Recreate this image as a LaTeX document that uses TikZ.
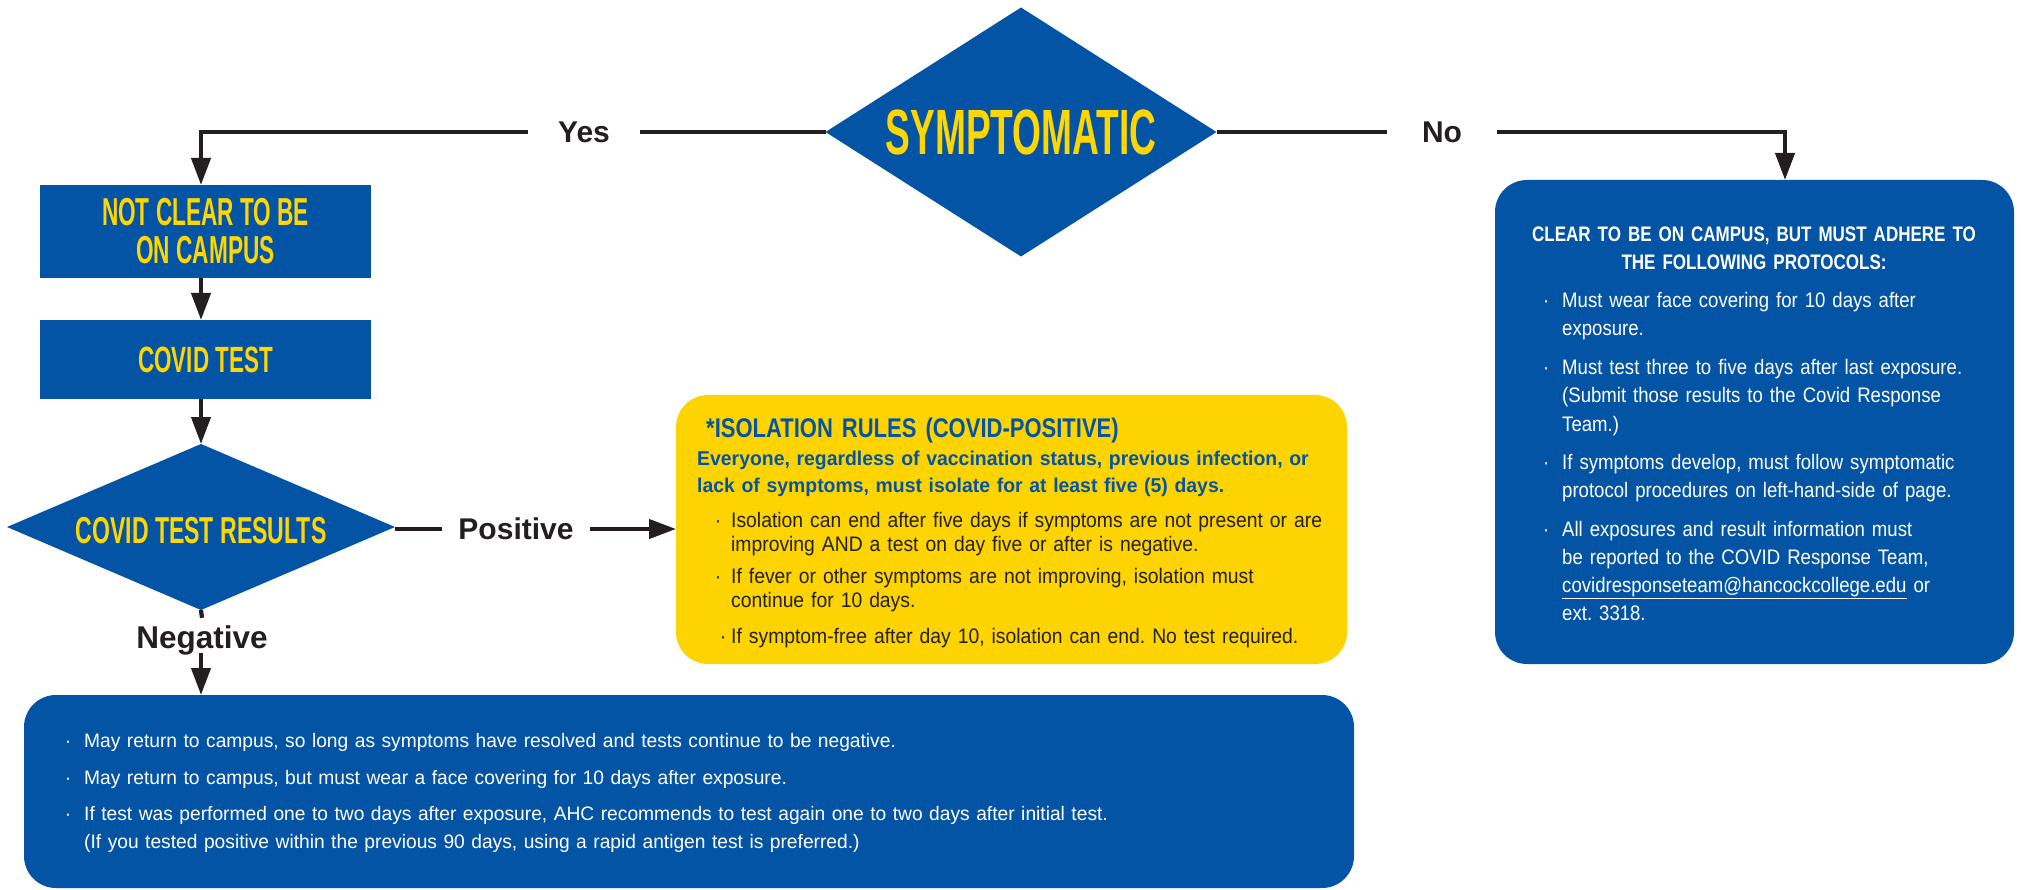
\documentclass[tikz,border=0pt]{standalone}
\usepackage{fontspec}
\setmainfont{Liberation Sans}[FakeStretch=0.95]
\newfontfamily\condfont{Liberation Sans Bold}[FakeStretch=0.58]
\newfontfamily\condB{Liberation Sans Bold}[FakeStretch=0.615]
\newfontfamily\headA{Liberation Sans Bold}[FakeStretch=0.81]
\newfontfamily\headB{Liberation Sans Bold}[FakeStretch=0.815]
\newfontfamily\boldY{Liberation Sans Bold}[FakeStretch=0.97]
\newfontfamily\bodyR{Liberation Sans}[FakeStretch=0.885]
\newfontfamily\bodyY{Liberation Sans}[FakeStretch=0.92]
\newfontfamily\bodyB{Liberation Sans}[FakeStretch=0.985]
\newfontfamily\labfont{Liberation Sans Bold}
\usetikzlibrary{shapes.geometric,arrows.meta}
\definecolor{ahcblue}{RGB}{4,84,165}
\definecolor{ahcyellow}{RGB}{255,214,0}
\definecolor{boxyellow}{RGB}{254,212,0}
\definecolor{ink}{RGB}{35,31,32}
\frenchspacing
\begin{document}
\begin{tikzpicture}[x=1pt,y=-1pt,
  ln/.style={draw=ink,line width=4.2pt},
  arr/.style={ln,-{Triangle[length=27pt,width=19pt]}},
  dia/.style={diamond,fill=ahcblue,text=ahcyellow,inner sep=0pt,outer sep=0pt},
  sq/.style={rectangle,fill=ahcblue,text=ahcyellow,inner sep=0pt,outer sep=0pt},
  rbox/.style={rectangle,rounded corners=32pt,inner sep=0pt,outer sep=0pt},
  lab/.style={font=\labfont\fontsize{30}{30}\selectfont,text=ink,text height=21pt,text depth=0pt,inner ysep=0pt},
  tx/.style={anchor=base west,inner sep=0pt,align=left}]
\useasboundingbox (0,0) rectangle (2021,890);
% shapes
\node[dia,minimum width=391pt,minimum height=249pt,shape aspect=1.57,
  font=\condfont\fontsize{64}{64}\selectfont] (symp) at (1021,132) {SYMPTOMATIC};
\node[sq,minimum width=331pt,minimum height=93pt,align=center,
  font=\condfont\fontsize{39}{38}\selectfont] (notclear) at (205.5,231.5) {NOT CLEAR TO BE\\ON CAMPUS};
\node[sq,minimum width=331pt,minimum height=79pt,
  font=\condB\fontsize{36.5}{36}\selectfont] (ctest) at (205.5,359.5) {COVID TEST};
\node[dia,minimum width=388pt,minimum height=166pt,shape aspect=2.34,text height=32pt,text depth=0pt,
  font=\condB\fontsize{37.5}{37}\selectfont] (cres) at (201,527) {COVID TEST RESULTS};
\node[rbox,fill=ahcblue,minimum width=519pt,minimum height=484pt] (clear) at (1754.5,422) {};
\node[rbox,fill=boxyellow,minimum width=671pt,minimum height=269pt] (iso) at (1011.5,529.5) {};
\node[rbox,fill=ahcblue,minimum width=1330pt,minimum height=193pt] (negbox) at (689,791.5) {};
% labels
\node[lab,inner xsep=30pt] (yes) at (584,132) {Yes};
\node[lab,inner xsep=35pt] (no) at (1442,132) {No};
\node[lab,inner xsep=16pt] (pos) at (516,529) {Positive};
\node[lab,inner xsep=0pt,font=\labfont\fontsize{31.5}{31}\selectfont] (neg) at (202,637.5) {Negative};
\coordinate (clearin) at (1785,180);
% connectors
\draw[ln] (symp.west) -- (yes.east);
\draw[arr] (yes.west) -| (notclear.north -| cres.north);
\draw[arr] (notclear.south -| cres.north) -- (ctest.north -| cres.north);
\draw[arr] (ctest.south -| cres.north) -- (cres.north);
\draw[ln] (symp.east) -- (no.west);
\draw[arr] (no.east) -| (clearin);
\draw[ln] (pos.west -| cres.east) -- (pos.west);
\draw[arr] (pos.east) -- (pos.east -| iso.west);
\draw[ln] (cres.south) -- ([yshift=9pt]neg.north);
\draw[arr] ([yshift=-5pt]neg.south -| cres.south) -- (negbox.north -| cres.south);
% right box text
\node[anchor=base,inner sep=0pt,text width=480pt,align=center,text=white,
  font=\headA\fontsize{21}{28}\selectfont] (ch) at (1754,242)
  {CLEAR TO BE ON CAMPUS, BUT MUST ADHERE TO\\THE FOLLOWING PROTOCOLS:};
\begin{scope}[every node/.append style={tx,text width=500pt,text=white,font=\bodyR\fontsize{21}{28}\selectfont}]
\node (c1) at (1562,308) {\llap{·\hspace{13pt}}Must wear face covering for 10 days after\\exposure.};
\node (c2) at (1562,375) {\llap{·\hspace{13pt}}Must test three to five days after last exposure.\\(Submit those results to the Covid Response\\Team.)};
\node (c3) at (1562,469) {\llap{·\hspace{13pt}}If symptoms develop, must follow symptomatic\\protocol procedures on left-hand-side of page.};
\node (c4) at (1562,536) {\llap{·\hspace{13pt}}All exposures and result information must\\be reported to the COVID Response Team,\\\underline{covidresponseteam@hancockcollege.edu} or\\ext. 3318.};
\end{scope}
% yellow box text
\node[tx,text width=620pt,text=ahcblue,font=\headB\fontsize{27}{28}\selectfont] (ih) at (706,437) {*ISOLATION RULES (COVID-POSITIVE)};
\node[tx,text width=660pt,text=ahcblue,font=\boldY\fontsize{20}{27}\selectfont] (i0) at (697,465)
  {Everyone, regardless of vaccination status, previous infection, or\\lack of symptoms, must isolate for at least five (5) days.};
\begin{scope}[every node/.append style={tx,text width=640pt,text=ink,font=\bodyY\fontsize{21}{24}\selectfont}]
\node (i1) at (731,527) {\llap{·\hspace{10pt}}Isolation can end after five days if symptoms are not present or are\\improving AND a test on day five or after is negative.};
\node (i2) at (731,583) {\llap{·\hspace{10pt}}If fever or other symptoms are not improving, isolation must\\continue for 10 days.};
\node (i3) at (731,643) {\llap{·\hspace{5pt}}If symptom-free after day 10, isolation can end. No test required.};
\end{scope}
% bottom box text
\begin{scope}[every node/.append style={tx,text width=1240pt,text=white,font=\bodyB\fontsize{19.5}{28}\selectfont}]
\node (n1) at (84,747) {\llap{·\hspace{13pt}}May return to campus, so long as symptoms have resolved and tests continue to be negative.};
\node (n2) at (84,784) {\llap{·\hspace{13pt}}May return to campus, but must wear a face covering for 10 days after exposure.};
\node (n3) at (84,820) {\llap{·\hspace{13pt}}If test was performed one to two days after exposure, AHC recommends to test again one to two days after initial test.\\(If you tested positive within the previous 90 days, using a rapid antigen test is preferred.)};
\end{scope}
\end{tikzpicture}
\end{document}
